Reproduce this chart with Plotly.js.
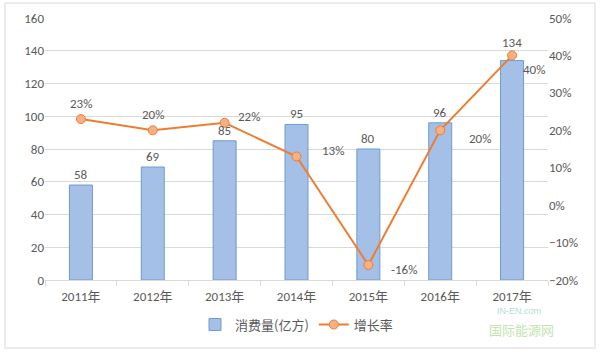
<!DOCTYPE html>
<html><head><meta charset="utf-8">
<script src="https://cdn.plot.ly/plotly-3.0.1.min.js"></script>
<style>body{margin:0;background:#fff}#c{width:600px;height:352px}</style>
</head><body><div id="c"></div>
<script>
const years = ['2011年','2012年','2013年','2014年','2015年','2016年','2017年'];
const consumption = [58, 69, 85, 95, 80, 96, 134];
const growth = [0.23, 0.20, 0.22, 0.13, -0.16, 0.20, 0.40];
const growthLabels = ['23%','20%','22%','13%','-16%','20%','40%'];
const labelShiftX = [0, 0, 24, 36, 36, 40, 22];
const labelShiftY = [16, 16, 6, 6, -4, -8, -14];
const barLabelShiftY = [0, 0, 0, 0, 0, 0, 8];

const font = {family: 'Calibri, Carlito, "Noto Sans CJK SC", sans-serif', color: '#595959', size: 13};

const traces = [
  {type: 'bar', x: years, y: consumption, name: '消费量(亿方)', width: 0.32,
   marker: {color: '#a4c0e7', line: {color: '#6f9ad3', width: 1}}},
  {type: 'scatter', mode: 'lines+markers', x: years, y: growth, yaxis: 'y2', name: '增长率',
   line: {color: '#ed7d31', width: 2},
   marker: {color: '#f4b183', size: 9, line: {color: '#ed7d31', width: 1}}}
];

const annotations = consumption.map((v, i) => ({
  x: years[i], y: v, xref: 'x', yref: 'y', text: String(v), showarrow: false,
  yanchor: 'bottom', yshift: 1 + barLabelShiftY[i], font: {color: '#595959', size: 13}
}));
growth.forEach((g, i) => annotations.push({
  x: years[i], y: g, xref: 'x', yref: 'y2', text: growthLabels[i], showarrow: false,
  xshift: labelShiftX[i], yshift: labelShiftY[i], font: {color: '#595959', size: 13}
}));
annotations.push({xref: 'paper', yref: 'paper', x: 0.99, y: -0.145, text: 'IN-EN.com', showarrow: false,
  font: {color: '#8fd0c0', size: 9, family: 'Arial'}, opacity: 0.7});
annotations.push({xref: 'paper', yref: 'paper', x: 1.015, y: -0.232, text: '国际能源网', showarrow: false,
  font: {color: '#a9d98c', size: 13, family: '"Noto Sans CJK SC"'}, opacity: 0.7});

const layout = {
  width: 600, height: 352,
  margin: {l: 45, r: 52, t: 18, b: 72},
  paper_bgcolor: '#fff', plot_bgcolor: '#fff',
  font: font,
  showlegend: true,
  legend: {orientation: 'h', x: 0.5, xanchor: 'center', y: -0.17, yanchor: 'middle',
           font: {family: '"Noto Sans CJK SC", sans-serif', size: 13, color: '#595959'}},
  xaxis: {type: 'category', showgrid: false, showline: true, linecolor: '#d9d9d9',
          ticks: 'outside', tickson: 'boundaries', ticklen: 5, tickcolor: '#d9d9d9',
          ticklabelstandoff: 4,
          tickfont: {family: 'Calibri, Carlito, "Noto Sans CJK SC", sans-serif', size: 13, color: '#595959'}},
  yaxis: {range: [0, 160], dtick: 20, gridcolor: '#d9d9d9', zeroline: false, showline: false,
          ticks: '', tickfont: {size: 13, color: '#595959'}},
  yaxis2: {range: [-0.2, 0.5], dtick: 0.1, tickformat: '.0%', overlaying: 'y', side: 'right',
           showgrid: false, zeroline: false, showline: false, tickfont: {size: 13, color: '#595959'}},
  annotations: annotations,
  shapes: [{type: 'rect', xref: 'paper', yref: 'paper', x0: -0.0795, x1: 1.0934, y0: -0.2595, y1: 1.057,
            line: {color: '#d9d9d9', width: 1}}]
};
Plotly.newPlot('c', traces, layout, {displayModeBar: false, staticPlot: true});
</script></body></html>
